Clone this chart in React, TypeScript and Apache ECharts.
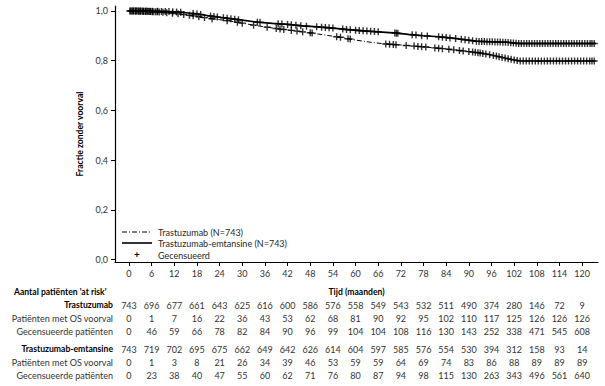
import React, { useEffect, useRef } from "react";
import * as echarts from "echarts";

// ---- Axis ticks ----
const xTicks = [0, 6, 12, 18, 24, 30, 36, 42, 48, 54, 60, 66, 72, 78, 84, 90, 96, 102, 108, 114, 120];
const yTicks = [0, 0.2, 0.4, 0.6, 0.8, 1.0];

// ---- Kaplan-Meier curves (month, survival) ----
const trasTimes = [0, 4, 8, 12, 15, 18, 21, 24, 27, 30, 33, 36, 40, 44, 48, 52, 56, 60, 64, 68, 72, 76, 80, 84, 88, 92, 95, 98, 100, 102, 103.5, 123.7];
const trasSurv = [1.0, 0.999, 0.996, 0.99, 0.985, 0.978, 0.971, 0.965, 0.959, 0.951, 0.943, 0.936, 0.927, 0.92, 0.912, 0.903, 0.894, 0.883, 0.874, 0.867, 0.863, 0.858, 0.853, 0.847, 0.84, 0.833, 0.826, 0.816, 0.809, 0.803, 0.799, 0.799];

const kadTimes = [0, 6, 10, 14, 18, 22, 26, 30, 34, 38, 42, 46, 50, 54, 58, 62, 66, 70, 74, 78, 82, 86, 90, 92, 96, 100, 101.5, 103, 123.7];
const kadSurv = [1.0, 0.999, 0.998, 0.995, 0.988, 0.979, 0.971, 0.963, 0.955, 0.95, 0.946, 0.94, 0.936, 0.931, 0.925, 0.92, 0.916, 0.912, 0.906, 0.9, 0.896, 0.89, 0.882, 0.878, 0.876, 0.874, 0.872, 0.869, 0.869];

// ---- Censoring times (months) ----
const trasCensor = [0.3, 0.8, 1.2, 1.7, 2.1, 2.6, 3, 3.5, 3.9, 4.4, 4.8, 5.3, 5.7, 6.2, 6.6, 7.1, 7.5, 8,
  9, 10, 11.5, 13, 14.5, 16, 17, 18.5, 20, 22, 26, 28.7, 30, 33, 36.6, 39, 40, 41, 43, 44.5, 46, 48, 48.5,
  55, 56, 58, 58.6, 68, 69, 70, 70.7, 73.4, 75.5, 76.5, 77.5, 78.6, 81, 82, 83, 84.7, 86, 87.5, 88.5, 90,
  91, 91.7, 92.4, 93, 93.7, 94.5, 95.5, 96.5, 97.3, 98, 98.8, 99.6, 100.4, 101.2, 102, 102.8, 103.6, 104.4,
  105.2, 106, 106.8, 107.6, 108.4, 109.2, 110, 110.8, 111.6, 112.4, 113.2, 114, 114.8, 115.6, 116.4, 117.2,
  118, 118.8, 119.6, 120.4, 121.2, 122, 122.6, 123.2];

const kadCensor = [0.3, 0.8, 1.2, 1.7, 2.1, 2.6, 3, 3.5, 3.9, 4.4, 4.8, 5.3, 5.7, 6.2, 7.6, 8.6, 9.6, 10.6,
  11.6, 12.6, 13.7, 17, 18, 19, 21.6, 22.5, 23.4, 25, 26, 27, 28, 29, 34, 34.7, 39.5, 40.5, 42, 43, 44.2,
  45.5, 47, 49.7, 51, 52, 53, 54, 56.6, 57.6, 58.6, 60, 61, 62, 63, 64, 65, 66, 70.4, 70.8, 71.2, 75, 76,
  77.5, 79, 82, 83, 84, 85, 86.5, 88, 89, 90, 91, 92, 92.7, 93.4, 94.1, 94.8, 95.5, 96.2, 96.9, 97.6, 98.3,
  99, 99.7, 100.4, 101.1, 101.8, 102.5, 103.2, 103.9, 104.6, 105.3, 106, 106.7, 107.4, 108.1, 108.8, 109.5,
  110.2, 110.9, 111.6, 112.3, 113, 113.7, 114.4, 115.1, 115.8, 116.5, 117.2, 117.9, 118.6, 119.3, 120,
  120.7, 121.4, 122.1, 122.6, 123.2];

// ---- Numbers at risk table ----
const riskMonths = xTicks;
const trasAtRisk = [743, 696, 677, 661, 643, 625, 616, 600, 586, 576, 558, 549, 543, 532, 511, 490, 374, 280, 146, 72, 9];
const trasEvents = [0, 1, 7, 16, 22, 36, 43, 53, 62, 68, 81, 90, 92, 95, 102, 110, 117, 125, 126, 126, 126];
const trasCensored = [0, 46, 59, 66, 78, 82, 84, 90, 96, 99, 104, 104, 108, 116, 130, 143, 252, 338, 471, 545, 608];
const kadAtRisk = [743, 719, 702, 695, 675, 662, 649, 642, 626, 614, 604, 597, 585, 576, 554, 530, 394, 312, 158, 93, 14];
const kadEvents = [0, 1, 3, 8, 21, 26, 34, 39, 46, 53, 59, 59, 64, 69, 74, 83, 86, 88, 89, 89, 89];
const kadCensored = [0, 23, 38, 40, 47, 55, 60, 62, 71, 76, 80, 87, 94, 98, 115, 130, 263, 343, 496, 561, 640];

const seriesNames = ["Trastuzumab (N=743)", "Trastuzumab-emtansine (N=743)", "Gecensueerd"];
const tableTitle = "Aantal patiënten 'at risk'";
const rowLabels = ["Trastuzumab", "Patiënten met OS voorval", "Gecensueerde patiënten", "Trastuzumab-emtansine", "Patiënten met OS voorval", "Gecensueerde patiënten"];

const FONT = "Lato, 'Liberation Sans', sans-serif";
const PLUS = "path://M2,0L3,0L3,2L5,2L5,3L3,3L3,5L2,5L2,3L0,3L0,2L2,2Z";

function curveAt(times: number[], surv: number[], t: number): number {
  for (let i = 1; i < times.length; i++) {
    if (t <= times[i]) {
      const f = (t - times[i - 1]) / (times[i] - times[i - 1]);
      return surv[i - 1] + f * (surv[i] - surv[i - 1]);
    }
  }
  return surv[surv.length - 1];
}

function txt(x: number, y: number, text: string, opts: any = {}) {
  const align = opts.align || "center";
  return {
    type: "text",
    x,
    y,
    silent: true,
    style: {
      text,
      font: `${opts.bold ? "bold " : ""}${opts.size || 9}px ${FONT}`,
      fill: opts.color || "#262626",
      align,
      textAlign: align,
      verticalAlign: "middle",
      textVerticalAlign: "middle",
    },
  };
}

export default function App() {
  const ref = useRef<HTMLDivElement>(null);
  useEffect(() => {
    const chart = echarts.init(ref.current!, null, { renderer: "svg" });
    const fmt = (v: number) => v.toFixed(1).replace(".", ",");
    chart.setOption({
      animation: false,
      backgroundColor: "#ffffff",
      grid: { left: 115, right: 7, top: 6, bottom: 124, containLabel: false },
      xAxis: {
        type: "value",
        min: -3.7,
        max: 124.2,
        name: "Tijd (maanden)",
        nameLocation: "middle",
        nameGap: 25,
        nameTextStyle: { fontFamily: FONT, fontSize: 8.6, fontWeight: "bold", color: "#000" },
        axisLine: { onZero: false, lineStyle: { color: "#000", width: 1.2 } },
        axisTick: { show: true, customValues: xTicks, length: 4, lineStyle: { color: "#000" } },
        axisLabel: { customValues: xTicks, margin: 7, fontFamily: FONT, fontSize: 9, color: "#333" },
        splitLine: { show: false },
      },
      yAxis: {
        type: "value",
        min: -0.01,
        max: 1.02,
        name: "Fractie zonder voorval",
        nameLocation: "middle",
        nameRotate: 90,
        nameGap: 26,
        nameTextStyle: { fontFamily: FONT, fontSize: 8.6, fontWeight: "bold", color: "#000" },
        axisLine: { show: true, onZero: false, lineStyle: { color: "#000", width: 1.2 } },
        axisTick: { show: true, customValues: yTicks, length: 4, lineStyle: { color: "#000" } },
        axisLabel: { customValues: yTicks, margin: 7, fontFamily: FONT, fontSize: 9, color: "#333", formatter: fmt },
        splitLine: { show: false },
      },
      series: [
        {
          name: seriesNames[0],
          type: "line",
          data: trasTimes.map((t, i) => [t, trasSurv[i]]),
          showSymbol: false,
          lineStyle: { color: "#000", width: 1, type: [5, 2, 1, 2] },
          z: 2,
        },
        {
          name: seriesNames[1],
          type: "line",
          data: kadTimes.map((t, i) => [t, kadSurv[i]]),
          showSymbol: false,
          lineStyle: { color: "#000", width: 1.6 },
          z: 2,
        },
        {
          name: seriesNames[2],
          type: "scatter",
          data: trasCensor.map((t) => [t, curveAt(trasTimes, trasSurv, t)]),
          symbol: PLUS,
          symbolSize: 7,
          itemStyle: { color: "#000" },
          z: 3,
        },
        {
          name: seriesNames[2],
          type: "scatter",
          data: kadCensor.map((t) => [t, curveAt(kadTimes, kadSurv, t)]),
          symbol: PLUS,
          symbolSize: 7,
          itemStyle: { color: "#000" },
          z: 3,
        },
      ],
    });

    const xs = riskMonths.map((m) => chart.convertToPixel({ xAxisIndex: 0 }, m) as number);
    const g: any[] = [];
    // legend inside plot
    g.push({ type: "line", shape: { x1: 122, y1: 232, x2: 152, y2: 232 }, style: { stroke: "#000", lineWidth: 1, lineDash: [5, 2, 1, 2] } });
    g.push({ type: "line", shape: { x1: 122, y1: 243, x2: 152, y2: 243 }, style: { stroke: "#000", lineWidth: 1.6 } });
    g.push(txt(137, 254, "+", { bold: true, size: 10, color: "#000" }));
    g.push(txt(158, 232, seriesNames[0], { align: "left" }));
    g.push(txt(158, 243, seriesNames[1], { align: "left" }));
    g.push(txt(158, 255, seriesNames[2], { align: "left" }));
    // risk table
    g.push(txt(14, 292, tableTitle, { align: "left", bold: true, color: "#000", size: 8.6 }));
    const rowsY = [305, 318, 331, 349, 362, 375];
    const rowData = [trasAtRisk, trasEvents, trasCensored, kadAtRisk, kadEvents, kadCensored];
    rowLabels.forEach((lab, r) => {
      const bold = r === 0 || r === 3;
      g.push(txt(113, rowsY[r], lab, { align: "right", bold, size: bold ? 8.6 : 9, color: bold ? "#000" : "#333" }));
      rowData[r].forEach((v, i) => {
        g.push(txt(xs[i], rowsY[r], String(v), { color: "#333" }));
      });
    });
    chart.setOption({ graphic: g });

    return () => chart.dispose();
  }, []);
  return <div ref={ref} style={{ position: "absolute", left: 0, top: 0, width: 605, height: 386 }} />;
}
